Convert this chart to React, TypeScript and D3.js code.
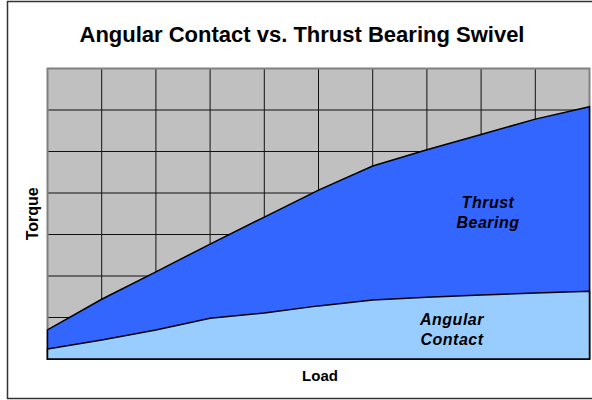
import React from 'react';
import * as d3 from 'd3';

// load steps along the x axis (one per vertical grid line)
const loadSteps = [0, 1, 2, 3, 4, 5, 6, 7, 8, 9, 10];
// torque, in grid units
const thrustTorque = [0.7, 1.44, 2.1, 2.77, 3.42, 4.07, 4.65, 5.04, 5.41, 5.78, 6.08];
const angularTorque = [0.24, 0.46, 0.7, 0.98, 1.11, 1.28, 1.42, 1.49, 1.54, 1.59, 1.63];
const yTicks = [0, 1, 2, 3, 4, 5, 6, 7];

const W = 592;
const H = 400;
const margin = { left: 47.5, right: 2.5, top: 68.5, bottom: 41 };

export default function App() {
  const x = d3.scaleLinear().domain([0, 10]).range([margin.left, W - margin.right]);
  const y = d3.scaleLinear().domain([0, 7]).range([H - margin.bottom, margin.top]);

  // both areas start at the baseline, angular contact drawn in front
  const area = d3
    .area<number>()
    .x((_, i) => x(loadSteps[i]))
    .y0(() => y(0))
    .y1((d) => y(d));

  const font = 'Liberation Sans, Arial, sans-serif';

  return (
    <svg
      width={W}
      height={H}
      style={{ position: 'absolute', left: 0, top: 0 }}
      fontFamily={font}
    >
      <rect x={0} y={0} width={W} height={H} fill="#fff" />
      <rect x={7.5} y={1.5} width={620} height={397} fill="#fff" stroke="#333" strokeWidth={1.5} />

      <text x={302} y={42} textAnchor="middle" fontSize={22} fontWeight="bold">
        Angular Contact vs. Thrust Bearing Swivel
      </text>

      {/* plot area */}
      <rect
        x={x(0)}
        y={y(7)}
        width={x(10) - x(0)}
        height={y(0) - y(7)}
        fill="#C0C0C0"
      />
      {loadSteps.slice(1, -1).map((d) => (
        <line key={'v' + d} x1={x(d)} x2={x(d)} y1={y(7)} y2={y(0)} stroke="#111" strokeWidth={1} />
      ))}
      {yTicks.slice(1, -1).map((d) => (
        <line key={'h' + d} x1={x(0)} x2={x(10)} y1={y(d)} y2={y(d)} stroke="#111" strokeWidth={1} />
      ))}
      <rect
        x={x(0)}
        y={y(7)}
        width={x(10) - x(0)}
        height={y(0) - y(7)}
        fill="none"
        stroke="#808080"
        strokeWidth={2}
      />

      <path d={area(thrustTorque) || ''} fill="#3366FF" stroke="#000" strokeWidth={1.5} />
      <path d={area(angularTorque) || ''} fill="#99CCFF" stroke="#000" strokeWidth={1.5} />

      {/* series labels */}
      <g fontSize={16} fontWeight="bold" fontStyle="italic" textAnchor="middle" letterSpacing={0.5}>
        <text x={488} y={208}>Thrust</text>
        <text x={488} y={228}>Bearing</text>
        <text x={452} y={325}>Angular</text>
        <text x={452} y={345}>Contact</text>
      </g>

      {/* axis titles */}
      <text x={320} y={381} textAnchor="middle" fontSize={15} fontWeight="bold">
        Load
      </text>
      <text
        transform={`translate(38, ${(y(0) + y(7)) / 2}) rotate(-90)`}
        textAnchor="middle"
        fontSize={16}
        fontWeight="bold"
      >
        Torque
      </text>
    </svg>
  );
}
